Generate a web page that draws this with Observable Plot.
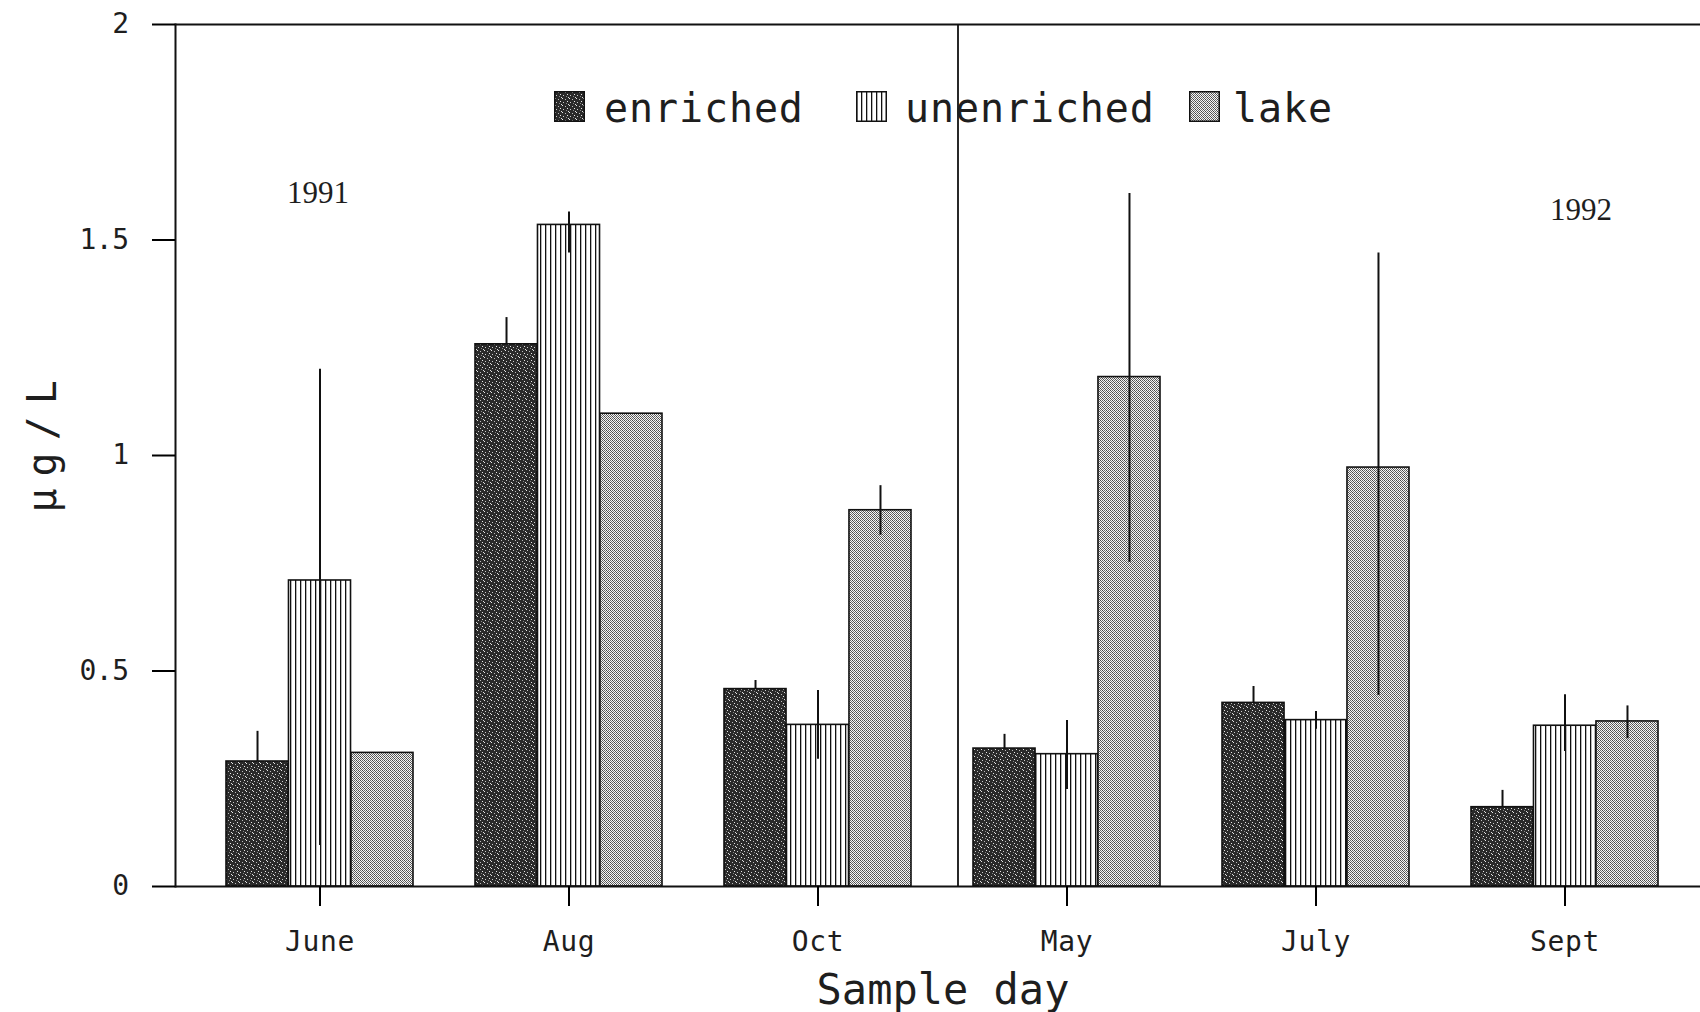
<!DOCTYPE html>
<html>
<head>
<meta charset="utf-8">
<script src="https://cdn.jsdelivr.net/npm/d3@7"></script>
<script src="https://cdn.jsdelivr.net/npm/@observablehq/plot@0.6"></script>
<style>
  html, body { margin: 0; padding: 0; background: #fff; }
  #wrap { position: relative; width: 1700px; height: 1012px; overflow: hidden; }
  #wrap svg.chart text { fill: #1e1e1e; }
  g[aria-label="x-axis tick label"] text { letter-spacing: 0.6px; }
  g[aria-label="y-axis tick label"] text { letter-spacing: -0.5px; }
  .ylab text { letter-spacing: 12px; }
  .legend-item { position: absolute; font-family: "DejaVu Sans Mono", monospace; font-size: 40px; line-height: 40px; letter-spacing: 0.9px; color: #1e1e1e; white-space: nowrap; }
  .legend-swatch { position: absolute; width: 31px; height: 31px; }
</style>
</head>
<body>
<div id="wrap"></div>
<script>
// ---- data ----
const months = ["June", "Aug", "Oct", "May", "July", "Sept"];
const series = ["enriched", "unenriched", "lake"];

const enriched     = [0.29, 1.258, 0.458, 0.32, 0.426, 0.184];
const enrichedHi   = [0.36, 1.32, 0.478, 0.353, 0.464, 0.223];

const unenriched   = [0.71, 1.535, 0.375, 0.307, 0.386, 0.373];
const unenrichedLo = [0.095, 1.47, 0.295, 0.225, 0.365, 0.313];
const unenrichedHi = [1.20, 1.565, 0.455, 0.385, 0.406, 0.445];

const lake         = [0.31, 1.097, 0.873, 1.182, 0.972, 0.383];
const lakeLo       = [null, null, 0.815, 0.752, 0.443, 0.343];
const lakeHi       = [null, null, 0.93, 1.608, 1.47, 0.419];

const yTicks      = [0, 0.5, 1, 1.5, 2];
const yTickLabels = ["0", "0.5", "1", "1.5", "2"];

const yearLabels = ["1991", "1992"];
const yearMonths = ["June", "Sept"];
const yearY      = [1.61, 1.57];

const dividerMonth = ["May"];

// ---- tables ----
const rowsEnr = months.map((m, i) => ({month: m, value: enriched[i], lo: enriched[i], hi: enrichedHi[i]}));
const rowsUne = months.map((m, i) => ({month: m, value: unenriched[i], lo: unenrichedLo[i], hi: unenrichedHi[i]}));
const rowsLak = months.map((m, i) => ({month: m, value: lake[i], lo: lakeLo[i], hi: lakeHi[i]}));
const years = yearLabels.map((t, i) => ({text: t, month: yearMonths[i], y: yearY[i]}));

// ---- layout ----
const W = 1700, H = 1012;
const mL = 175, mR = 0, mT = 24, mB = 126;
const xr0 = 175, xr1 = 1708.6, pIn = 0.25, pOut = 0.193;
const step = (xr1 - xr0) / (months.length - pIn + 2 * pOut);
const bw = step * (1 - pIn);
const third = bw / 3;

const fills = {enriched: "url(#pEnr)", unenriched: "url(#pUne)", lake: "url(#pLak)"};
const barStyle = {stroke: "#111", strokeWidth: 1.6};
const errStyle = {stroke: "#111", strokeWidth: 2};

const chart = Plot.plot({
  width: W, height: H,
  marginLeft: mL, marginRight: mR, marginTop: mT, marginBottom: mB,
  style: {fontFamily: "'DejaVu Sans Mono', monospace", fontSize: "28px", background: "white"},
  x: {type: "band", domain: months, range: [xr0, xr1], paddingInner: pIn, paddingOuter: pOut, align: 0.5},
  y: {domain: [0, 2]},
  marks: [
    Plot.barY(rowsEnr, {x: "month", y: "value", fill: fills.enriched, insetLeft: 0, insetRight: 2 * third, ...barStyle}),
    Plot.barY(rowsUne, {x: "month", y: "value", fill: fills.unenriched, insetLeft: third, insetRight: third, ...barStyle}),
    Plot.barY(rowsLak, {x: "month", y: "value", fill: fills.lake, insetLeft: 2 * third, insetRight: 0, ...barStyle}),
    Plot.ruleX(rowsEnr.filter(d => d.hi != null), {x: "month", y1: "lo", y2: "hi", dx: -third, ...errStyle}),
    Plot.ruleX(rowsUne.filter(d => d.hi != null), {x: "month", y1: "lo", y2: "hi", dx: 0, ...errStyle}),
    Plot.ruleX(rowsLak.filter(d => d.hi != null), {x: "month", y1: "lo", y2: "hi", dx: third, ...errStyle}),
    Plot.ruleY([0], {stroke: "#111", strokeWidth: 2}),
    Plot.ruleY([2], {stroke: "#111", strokeWidth: 2}),
    Plot.frame({anchor: "left", stroke: "#111", strokeWidth: 2}),
    Plot.ruleX(dividerMonth, {x: d => d, dx: -109, stroke: "#111", strokeWidth: 1.8}),
    Plot.axisY({ticks: yTicks, tickFormat: d => yTickLabels[yTicks.indexOf(d)], tickSize: 23, tickPadding: 24, strokeWidth: 2, label: null}),
    Plot.axisX({tickSize: 20, tickPadding: 25, strokeWidth: 2, label: null}),
    Plot.text([years[0]], {x: "month", y: "y", text: "text", fontFamily: "'Liberation Serif', serif", fontSize: 31, dx: -2}),
    Plot.text([years[1]], {x: "month", y: "y", text: "text", fontFamily: "'Liberation Serif', serif", fontSize: 31, dx: 16}),
    Plot.text(["µg/L"], {text: d => d, frameAnchor: "left", rotate: -90, dx: -132, dy: 57, fontSize: 40, className: "ylab"}),
    Plot.text(["Sample day"], {text: d => d, frameAnchor: "bottom", dx: 5, dy: 117, fontSize: 42})
  ]
});
chart.classList.add("chart");

// patterns
const ns = "http://www.w3.org/2000/svg";
const defs = document.createElementNS(ns, "defs");
defs.innerHTML = `
  <pattern id="pEnr" width="7" height="7" patternUnits="userSpaceOnUse">
    <rect width="7" height="7" fill="#2a2a2a"/>
    <rect x="1" y="0" width="1" height="1" fill="#e8e8e8"/>
    <rect x="4" y="1" width="1" height="1" fill="#bbb"/>
    <rect x="6" y="3" width="1" height="1" fill="#e8e8e8"/>
    <rect x="2" y="4" width="1" height="1" fill="#ccc"/>
    <rect x="5" y="5" width="1" height="1" fill="#888"/>
    <rect x="0" y="6" width="1" height="1" fill="#ddd"/>
  </pattern>
  <pattern id="pUne" width="5" height="10" patternUnits="userSpaceOnUse">
    <rect width="5" height="10" fill="#fff"/>
    <rect x="0" y="0" width="1.3" height="10" fill="#111"/>
  </pattern>
  <pattern id="pLak" width="4" height="4" patternUnits="userSpaceOnUse">
    <rect width="4" height="4" fill="#f6f6f6"/>
    <rect x="0" y="0" width="1" height="1" fill="#444"/>
    <rect x="2" y="0" width="1" height="1" fill="#666"/>
    <rect x="1" y="1" width="1" height="1" fill="#555"/>
    <rect x="3" y="1" width="1" height="1" fill="#777"/>
    <rect x="0" y="2" width="1" height="1" fill="#666"/>
    <rect x="2" y="2" width="1" height="1" fill="#444"/>
    <rect x="1" y="3" width="1" height="1" fill="#777"/>
    <rect x="3" y="3" width="1" height="1" fill="#555"/>
  </pattern>`;
chart.insertBefore(defs, chart.firstChild);

const wrap = document.getElementById("wrap");
wrap.appendChild(chart);

// legend (overlay inside the plot area, as in the reference)
const legendPos = {
  enriched:   {sx: 554, tx: 604},
  unenriched: {sx: 856, tx: 905},
  lake:       {sx: 1189, tx: 1233}
};
series.forEach(s => {
  const sw = document.createElementNS(ns, "svg");
  sw.setAttribute("class", "legend-swatch");
  sw.setAttribute("width", 31); sw.setAttribute("height", 31);
  sw.style.left = legendPos[s].sx + "px"; sw.style.top = "91px";
  sw.innerHTML = `<rect x="0.75" y="0.75" width="29.5" height="29.5" fill="${fills[s]}" stroke="#111" stroke-width="1.5"/>`;
  wrap.appendChild(sw);
  const t = document.createElement("div");
  t.className = "legend-item";
  t.textContent = s;
  t.style.left = legendPos[s].tx + "px"; t.style.top = "88px";
  wrap.appendChild(t);
});
</script>
</body>
</html>
